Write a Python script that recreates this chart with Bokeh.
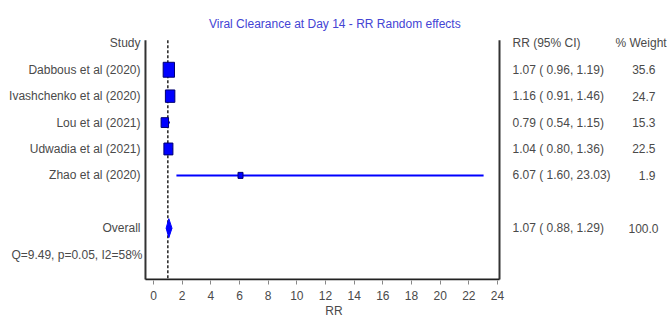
import numpy as np
from bokeh.plotting import figure
from bokeh.models import ColumnDataSource, Range1d, LinearAxis, FixedTicker
from bokeh.core.properties import value
from bokeh.embed import file_html
from bokeh.resources import INLINE

# ---- data ----
studies = ["Dabbous et al (2020)", "Ivashchenko et al (2020)", "Lou et al (2021)",
           "Udwadia et al (2021)", "Zhao et al (2020)"]
rr = [1.07, 1.16, 0.79, 1.04, 6.07]
lo = [0.96, 0.91, 0.54, 0.80, 1.60]
hi = [1.19, 1.46, 1.15, 1.36, 23.03]
weight = [35.6, 24.7, 15.3, 22.5, 1.9]
overall_rr = 1.07
overall_lo = 0.88
overall_hi = 1.29
overall_weight = 100.0
heterogeneity = "Q=9.49, p=0.05, I2=58%"
title_text = "Viral Clearance at Day 14 -  RR Random effects"
x_ticks = [0, 2, 4, 6, 8, 10, 12, 14, 16, 18, 20, 22, 24]
rr_axis_min, rr_axis_max = -0.56, 24.14

FONT = "Liberation Sans"
TXT = "#4a4a4a"
BLUE = "#0000ff"

rows = [1, 2, 3, 4, 5]
header_row = 0
overall_row = 7
het_row = 8
bottom_row = 8.943
top_row = -0.113

ci_text = ["%.2f ( %.2f, %.2f)" % (r, l, h) for r, l, h in zip(rr, lo, hi)]
w_text = ["%.1f" % w for w in weight]
w_px = [max(5.0, 1.9 * np.sqrt(w)) for w in weight]
h_px = [max(6.0, 2.5 * np.sqrt(w)) for w in weight]

src = ColumnDataSource(dict(row=rows, rr=rr, lo=lo, hi=hi, study=studies,
                            ci=ci_text, wt=w_text, wpx=w_px, hpx=h_px))

W, H = 667, 320
FRAME_BOTTOM = 281
PX0, PXU = 153.0, 344.0 / 24      # pixel of RR=0, pixels per RR unit
ROW0, ROWU = 43.0, 26.5           # pixel of header row, pixels per row

p = figure(width=W, height=H, output_backend="svg", toolbar_location=None,
           x_range=Range1d(0, W),
           y_range=Range1d((FRAME_BOTTOM - ROW0) / ROWU, -ROW0 / ROWU),
           x_axis_location=None, y_axis_location=None,
           min_border=0, min_border_bottom=H - FRAME_BOTTOM)
p.extra_x_ranges = {"rr": Range1d(-PX0 / PXU, (W - PX0) / PXU)}
p.outline_line_color = None
p.xgrid.visible = False
p.ygrid.visible = False
p.background_fill_color = "white"
p.border_fill_color = "white"

xa = LinearAxis(x_range_name="rr", ticker=FixedTicker(ticks=x_ticks))
xa.axis_line_color = None
xa.major_tick_in = 0
xa.major_tick_out = 4
xa.minor_tick_line_color = None
xa.major_tick_line_color = "#888888"
xa.major_label_text_font = FONT
xa.major_label_text_font_size = "12px"
xa.major_label_text_color = TXT
xa.major_label_standoff = 6
xa.axis_label = "RR"
xa.axis_label_text_font = FONT
xa.axis_label_text_font_size = "12px"
xa.axis_label_text_font_style = "normal"
xa.axis_label_text_color = TXT
xa.axis_label_standoff = 1
p.add_layout(xa, "below")

# frame lines (left, right, bottom) of the forest panel
p.segment(x0=[rr_axis_min, rr_axis_max], y0=[top_row, top_row],
          x1=[rr_axis_min, rr_axis_max], y1=[bottom_row, bottom_row],
          x_range_name="rr", line_color="#333333", line_width=2)
p.segment(x0=[rr_axis_min], y0=[bottom_row], x1=[rr_axis_max], y1=[bottom_row],
          x_range_name="rr", line_color="#222222", line_width=2)

# line of no effect
p.segment(x0=[1], y0=[top_row], x1=[1], y1=[bottom_row], x_range_name="rr",
          line_color="#222222", line_dash="3 2", line_width=1.5)

# CIs, boxes, diamond
p.segment(x0="lo", y0="row", x1="hi", y1="row", source=src, x_range_name="rr",
          line_color=BLUE, line_width=2)
p.rect(x="rr", y="row", width="wpx", height="hpx", width_units="screen",
       height_units="screen", source=src, x_range_name="rr", fill_color=BLUE,
       line_color="#000070", line_width=1)
p.patch(x=[overall_lo, overall_rr, overall_hi, overall_rr],
        y=[overall_row, overall_row - 0.36, overall_row, overall_row + 0.36],
        x_range_name="rr", fill_color=BLUE, line_color=BLUE, line_width=1)


def put_text(x, y, texts, align="left", color=TXT):
    p.text(x=x, y=y, text=texts, text_font=value(FONT), text_font_size="12px",
           text_color=color, text_align=align, text_baseline="middle")


# title
put_text([336], [(24 - ROW0) / ROWU], [title_text], "center", "#4444d4")

# left labels
put_text([140] * len(studies), rows, studies, "right")
put_text([140, 140], [header_row, overall_row], ["Study", "Overall"], "right")
put_text([142], [het_row], [heterogeneity], "right")

# right columns
put_text([512], [header_row], ["RR (95% CI)"])
put_text([615], [header_row], ["% Weight"])
put_text([512] * len(ci_text), rows, ci_text)
put_text([655] * len(w_text), rows, w_text, "right")
put_text([512], [overall_row],
         ["%.2f ( %.2f, %.2f)" % (overall_rr, overall_lo, overall_hi)])
put_text([658], [overall_row], ["%.1f" % overall_weight], "right")

open("out.html", "w").write(file_html(p, INLINE))
